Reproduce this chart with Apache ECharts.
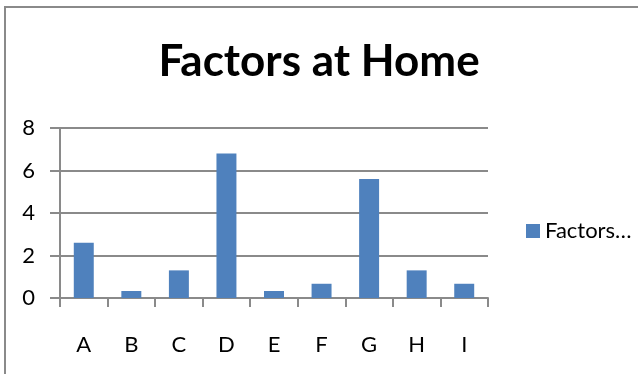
<!DOCTYPE html>
<html>
<head>
<meta charset="utf-8">
<script src="https://cdn.jsdelivr.net/npm/echarts@6/dist/echarts.min.js"></script>
<style>
  html, body { margin: 0; padding: 0; background: #fff; }
  #chart { width: 638px; height: 374px; }
</style>
</head>
<body>
<div id="chart"></div>
<script>
// Chart content
const chartTitle = 'Factors at Home';
const seriesName = 'Factors at Home';
const categories = ['A', 'B', 'C', 'D', 'E', 'F', 'G', 'H', 'I'];
const factorValues = [2.6, 0.33, 1.3, 6.8, 0.33, 0.67, 5.6, 1.3, 0.67];
const yTicks = { min: 0, max: 8, interval: 2 };

const fontFamily = 'Lato, "Liberation Sans", sans-serif';
const lineGray = '#8a8a8a';

const chart = echarts.init(document.getElementById('chart'), null, { renderer: 'canvas' });

chart.setOption({
  animation: false,
  backgroundColor: '#ffffff',
  textStyle: { fontFamily: fontFamily },
  graphic: [{
    type: 'rect',
    shape: { x: 5, y: 7, width: 700, height: 500 },
    style: { fill: 'none', stroke: lineGray, lineWidth: 2 },
    silent: true
  }],
  title: {
    text: chartTitle,
    left: 'center',
    top: 35,
    textStyle: { fontFamily: fontFamily, fontSize: 44, fontWeight: 'bold', color: '#000' }
  },
  legend: {
    orient: 'vertical',
    left: 521,
    top: 215,
    itemWidth: 14,
    itemHeight: 14,
    itemGap: 8,
    icon: 'rect',
    data: [seriesName],
    // the legend slot is narrow, so the name is cut after its first word
    formatter: function (name) { return name.split(' ')[0] + '…'; },
    textStyle: {
      fontFamily: fontFamily,
      fontSize: 22,
      color: '#000'
    }
  },
  grid: { left: 60, right: 150, top: 128, bottom: 76, containLabel: false },
  xAxis: {
    type: 'category',
    data: categories,
    boundaryGap: true,
    axisLine: { show: true, lineStyle: { color: lineGray, width: 2 } },
    axisTick: { show: true, length: 9, alignWithLabel: false, lineStyle: { color: lineGray, width: 2 } },
    axisLabel: { margin: 36, fontSize: 22, color: '#000', fontFamily: fontFamily }
  },
  yAxis: {
    type: 'value',
    min: yTicks.min,
    max: yTicks.max,
    interval: yTicks.interval,
    axisLine: { show: true, lineStyle: { color: lineGray, width: 2 } },
    axisTick: { show: true, length: 10, inside: false, lineStyle: { color: lineGray, width: 2 } },
    splitLine: { show: true, lineStyle: { color: lineGray, width: 2 } },
    axisLabel: { margin: 25, fontSize: 22, color: '#000', fontFamily: fontFamily }
  },
  series: [{
    name: seriesName,
    type: 'bar',
    data: factorValues,
    barWidth: '42%',
    itemStyle: { color: '#4f81bd' }
  }]
});
</script>
</body>
</html>
